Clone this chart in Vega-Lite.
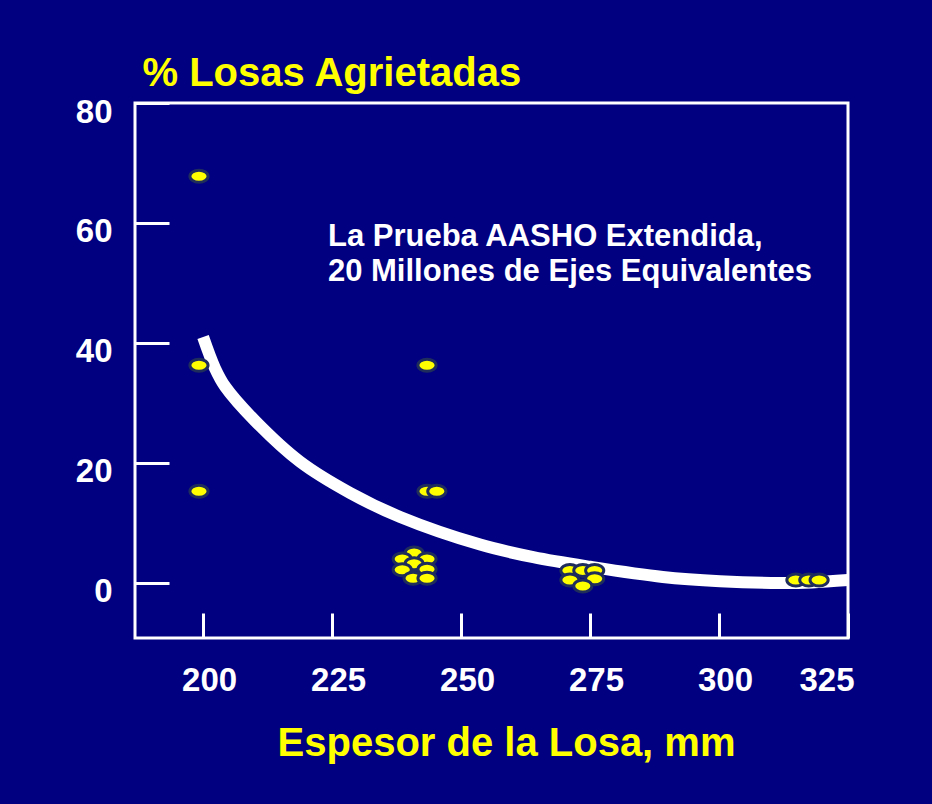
{
  "$schema": "https://vega.github.io/schema/vega-lite/v6.json",
  "width": 713,
  "height": 535,
  "autosize": "none",
  "padding": {"left": 135, "top": 103, "right": 84, "bottom": 166},
  "background": "#000080",
  "config": {
    "view": {"stroke": "#ffffff", "strokeWidth": 3, "fill": null},
    "font": "Liberation Sans",
    "axis": {
      "grid": false,
      "domain": false,
      "tickColor": "#ffffff",
      "tickWidth": 3,
      "labelColor": "#ffffff",
      "labelFont": "Liberation Sans",
      "labelFontWeight": "bold",
      "labelFontSize": 33,
      "titleColor": "#ffff00",
      "titleFont": "Liberation Sans",
      "titleFontWeight": "bold",
      "titleFontSize": 40
    }
  },
  "datasets": {
    "puntos": [
      {"espesor": 199.2, "pct": 67.8},
      {"espesor": 199.2, "pct": 36.3},
      {"espesor": 199.2, "pct": 15.3},
      {"espesor": 243.4, "pct": 36.3},
      {"espesor": 243.4, "pct": 15.3},
      {"espesor": 245.3, "pct": 15.3},
      {"espesor": 240.9, "pct": 5.0},
      {"espesor": 238.6, "pct": 4.0},
      {"espesor": 243.4, "pct": 4.0},
      {"espesor": 240.9, "pct": 3.2},
      {"espesor": 238.6, "pct": 2.2},
      {"espesor": 243.4, "pct": 2.3},
      {"espesor": 240.7, "pct": 0.8},
      {"espesor": 243.4, "pct": 0.8},
      {"espesor": 271.1, "pct": 2.1},
      {"espesor": 273.6, "pct": 2.1},
      {"espesor": 275.9, "pct": 2.1},
      {"espesor": 271.1, "pct": 0.5},
      {"espesor": 275.9, "pct": 0.7},
      {"espesor": 273.6, "pct": -0.5},
      {"espesor": 314.9, "pct": 0.5},
      {"espesor": 317.4, "pct": 0.5},
      {"espesor": 319.4, "pct": 0.5}
    ],
    "curva": [
      {"espesor": 200.0, "pct": 41.0},
      {"espesor": 202.3, "pct": 35.8},
      {"espesor": 204.3, "pct": 32.7},
      {"espesor": 210.1, "pct": 27.0},
      {"espesor": 218.8, "pct": 20.2},
      {"espesor": 228.5, "pct": 15.0},
      {"espesor": 238.2, "pct": 11.0},
      {"espesor": 253.7, "pct": 6.4},
      {"espesor": 264.0, "pct": 4.3},
      {"espesor": 275.0, "pct": 2.7},
      {"espesor": 289.1, "pct": 1.0},
      {"espesor": 300.2, "pct": 0.3},
      {"espesor": 311.8, "pct": 0.0},
      {"espesor": 318.0, "pct": 0.1},
      {"espesor": 325.0, "pct": 0.5}
    ],
    "nota": [
      {"espesor": 224.2, "pct": 56.2, "texto": "La Prueba AASHO Extendida,"},
      {"espesor": 224.2, "pct": 50.3, "texto": "20 Millones de Ejes Equivalentes"}
    ]
  },
  "layer": [
    {
      "data": {"name": "curva"},
      "mark": {"type": "line", "color": "#ffffff", "strokeWidth": 12, "strokeCap": "butt", "interpolate": "catmull-rom"},
      "encoding": {
        "x": {
          "field": "espesor", "type": "quantitative",
          "scale": {"domain": [186.8, 325], "nice": false, "zero": false},
          "axis": {
            "values": [200, 225, 250, 275, 300, 325],
            "tickSize": -25,
            "labelPadding": 51,
            "labelOffset": 6,
            "title": "Espesor de la Losa, mm",
            "titleX": 371,
            "titleY": 117,
            "titleAlign": "center",
            "titleBaseline": "alphabetic",
            "titleAnchor": null
          }
        },
        "y": {
          "field": "pct", "type": "quantitative",
          "scale": {"domain": [-9.17, 80], "nice": false, "zero": false},
          "axis": {
            "values": [0, 20, 40, 60, 80],
            "tickSize": -34,
            "labelPadding": 57,
            "labelOffset": 9,
            "title": "% Losas Agrietadas",
            "titleAngle": 0,
            "titleX": 7,
            "titleY": -18,
            "titleAlign": "left",
            "titleBaseline": "alphabetic",
            "titleAnchor": null
          }
        }
      }
    },
    {
      "data": {"name": "puntos"},
      "mark": {
        "type": "point",
        "shape": "M-1,0A1,0.66,0,1,0,1,0A1,0.66,0,1,0,-1,0Z",
        "size": 330,
        "filled": true,
        "fill": "#ffff00",
        "fillOpacity": 1,
        "stroke": "#1f2d5c",
        "strokeWidth": 3,
        "opacity": 1
      },
      "encoding": {
        "x": {"field": "espesor", "type": "quantitative"},
        "y": {"field": "pct", "type": "quantitative"}
      }
    },
    {
      "data": {"name": "nota"},
      "mark": {"type": "text", "align": "left", "baseline": "alphabetic", "color": "#ffffff", "font": "Liberation Sans", "fontWeight": "bold", "fontSize": 31},
      "encoding": {
        "x": {"field": "espesor", "type": "quantitative"},
        "y": {"field": "pct", "type": "quantitative"},
        "text": {"field": "texto"}
      }
    }
  ]
}
